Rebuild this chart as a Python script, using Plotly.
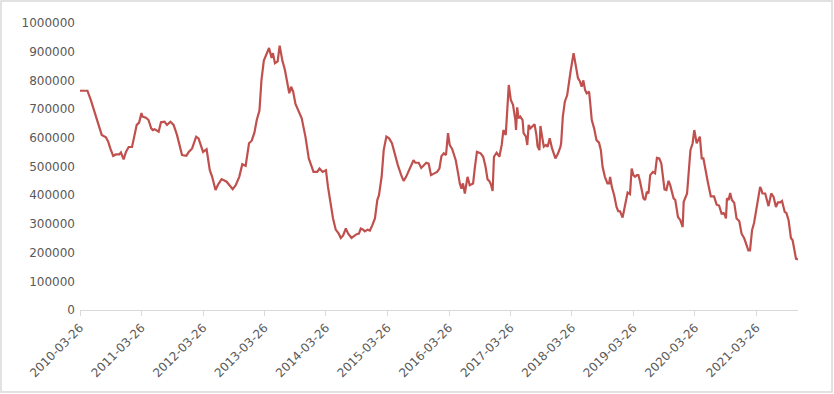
import plotly.graph_objects as go

dates = [
    "2010-03-26", "2010-05-09", "2010-05-29", "2010-06-28", "2010-07-17", "2010-08-02", "2010-08-27",
    "2010-09-10", "2010-09-22", "2010-10-09", "2010-10-25", "2010-11-14", "2010-11-24", "2010-12-10",
    "2010-12-24", "2011-01-09", "2011-01-29", "2011-02-12", "2011-02-26", "2011-03-12", "2011-03-26",
    "2011-04-01", "2011-04-22", "2011-05-07", "2011-05-23", "2011-06-02", "2011-06-12", "2011-07-06",
    "2011-07-20", "2011-08-10", "2011-08-25", "2011-09-14", "2011-10-03", "2011-10-23", "2011-11-06",
    "2011-11-22", "2011-12-18", "2012-01-01", "2012-01-21", "2012-02-14", "2012-02-28", "2012-03-26",
    "2012-04-16", "2012-05-05", "2012-05-19", "2012-06-08", "2012-06-24", "2012-07-14", "2012-08-13",
    "2012-09-01", "2012-09-18", "2012-10-06", "2012-10-27", "2012-11-14", "2012-12-04", "2012-12-24",
    "2013-01-09", "2013-01-25", "2013-02-08", "2013-02-24", "2013-03-08", "2013-03-22",
    "2013-04-07", "2013-04-22", "2013-05-07", "2013-05-15", "2013-05-27", "2013-06-12", "2013-06-24",
    "2013-07-10", "2013-07-25", "2013-08-10", "2013-08-20", "2013-08-31", "2013-09-12", "2013-09-26",
    "2013-10-19", "2013-11-02", "2013-11-24", "2013-12-14", "2013-12-28", "2014-01-11", "2014-02-02",
    "2014-02-16", "2014-03-06", "2014-03-26",
    "2014-04-07", "2014-04-24", "2014-05-07", "2014-05-23", "2014-06-10", "2014-06-22", "2014-07-06",
    "2014-07-22", "2014-08-05", "2014-08-25", "2014-09-10", "2014-09-24", "2014-10-08", "2014-10-19",
    "2014-11-02", "2014-11-12", "2014-11-28", "2014-12-12", "2014-12-26", "2015-01-11", "2015-01-25",
    "2015-02-04", "2015-02-20", "2015-03-04", "2015-03-20",
    "2015-04-05", "2015-04-22", "2015-05-07", "2015-05-27", "2015-06-16", "2015-06-30", "2015-07-15",
    "2015-07-29", "2015-08-13", "2015-08-28", "2015-09-08", "2015-09-28", "2015-10-13", "2015-10-27",
    "2015-11-12", "2015-11-26", "2015-12-10", "2015-12-30", "2016-01-15", "2016-01-29", "2016-02-10",
    "2016-02-24", "2016-03-08", "2016-03-20",
    "2016-03-30", "2016-04-14", "2016-04-24", "2016-05-05", "2016-05-19", "2016-05-29", "2016-06-08",
    "2016-06-17", "2016-06-28", "2016-07-14", "2016-07-27", "2016-08-16", "2016-08-27", "2016-09-08",
    "2016-09-30", "2016-10-15", "2016-10-29", "2016-11-10", "2016-11-20", "2016-11-30", "2016-12-10",
    "2016-12-18", "2017-01-03", "2017-01-19", "2017-02-02", "2017-02-12", "2017-02-26", "2017-03-06",
    "2017-03-16",
    "2017-03-28", "2017-04-10", "2017-04-24", "2017-04-28", "2017-05-05", "2017-05-13", "2017-05-23",
    "2017-06-06", "2017-06-12", "2017-06-26", "2017-07-04", "2017-07-12", "2017-07-22", "2017-08-05",
    "2017-08-16", "2017-08-27", "2017-09-03", "2017-09-14", "2017-09-20", "2017-09-30", "2017-10-10",
    "2017-10-23", "2017-11-02", "2017-11-14", "2017-11-28", "2017-12-18", "2018-01-03", "2018-01-17",
    "2018-01-21", "2018-01-31", "2018-02-12", "2018-02-26", "2018-03-06", "2018-03-18",
    "2018-04-05", "2018-04-17", "2018-05-01", "2018-05-13", "2018-05-23", "2018-06-02", "2018-06-12",
    "2018-06-22", "2018-07-06", "2018-07-12", "2018-07-22", "2018-08-05", "2018-08-19", "2018-09-03",
    "2018-09-14", "2018-09-24", "2018-10-08", "2018-10-23", "2018-11-02", "2018-11-08", "2018-11-18",
    "2018-12-02", "2018-12-16", "2018-12-26", "2019-01-06", "2019-01-21", "2019-01-31", "2019-02-10",
    "2019-02-20", "2019-03-06", "2019-03-16",
    "2019-03-26", "2019-04-05", "2019-04-16", "2019-04-25", "2019-05-05", "2019-05-15", "2019-05-25",
    "2019-06-04", "2019-06-14", "2019-06-24", "2019-07-04", "2019-07-20", "2019-08-02", "2019-08-13",
    "2019-08-27", "2019-09-08", "2019-09-16", "2019-09-27", "2019-10-08", "2019-10-21", "2019-10-31",
    "2019-11-20", "2019-11-30", "2019-12-16", "2019-12-30", "2020-01-13", "2020-01-19", "2020-02-08",
    "2020-02-28", "2020-03-12", "2020-03-22",
    "2020-04-05", "2020-04-24", "2020-05-05", "2020-05-15", "2020-05-29", "2020-06-12", "2020-06-28",
    "2020-07-17", "2020-08-02", "2020-08-16", "2020-08-31", "2020-09-12", "2020-09-20", "2020-09-26",
    "2020-10-02", "2020-10-12", "2020-10-21", "2020-10-31", "2020-11-14", "2020-11-28", "2020-12-14",
    "2020-12-28", "2021-01-13", "2021-01-27", "2021-02-06", "2021-02-16", "2021-02-28", "2021-03-12",
    "2021-03-26",
    "2021-04-03", "2021-04-17", "2021-04-24", "2021-05-01", "2021-05-17", "2021-05-29", "2021-06-06",
    "2021-06-22", "2021-07-06", "2021-07-20", "2021-08-01", "2021-08-15", "2021-08-25", "2021-09-10",
    "2021-09-20", "2021-10-03", "2021-10-17", "2021-10-27", "2021-11-08", "2021-11-16", "2021-11-28",
]

values = [
    764000, 764000, 732000, 674000, 645000, 610000, 602000,
    586000, 563000, 537000, 542000, 542000, 549000, 525000,
    551000, 568000, 568000, 604000, 645000, 653000, 686000,
    674000, 670000, 662000, 633000, 627000, 630000, 621000,
    654000, 656000, 645000, 656000, 645000, 610000, 581000,
    540000, 537000, 551000, 563000, 604000, 598000, 551000,
    560000, 487000, 464000, 418000, 438000, 456000, 447000,
    433000, 421000, 435000, 464000, 508000, 502000, 581000,
    590000, 618000, 662000, 695000, 802000, 869000,
    889000, 913000, 878000, 895000, 860000, 866000, 921000,
    869000, 837000, 790000, 755000, 778000, 761000, 718000,
    688000, 668000, 604000, 528000, 505000, 481000, 481000,
    493000, 481000, 487000,
    429000, 359000, 319000, 280000, 266000, 251000, 260000,
    284000, 266000, 251000, 257000, 264000, 266000, 284000,
    280000, 274000, 280000, 277000, 295000, 319000, 383000,
    400000, 466000, 557000, 604000,
    598000, 581000, 546000, 505000, 470000, 450000, 464000,
    481000, 499000, 522000, 513000, 513000, 495000, 502000,
    513000, 510000, 470000, 476000, 481000, 493000, 536000,
    546000, 540000, 616000,
    575000, 560000, 540000, 522000, 476000, 441000, 423000,
    441000, 406000, 464000, 435000, 441000, 499000, 551000,
    546000, 534000, 499000, 455000, 450000, 437000, 415000,
    534000, 548000, 534000, 575000, 627000, 610000, 709000,
    784000,
    732000, 715000, 662000, 627000, 706000, 668000, 674000,
    662000, 616000, 604000, 575000, 645000, 633000, 641000,
    647000, 610000, 571000, 557000, 641000, 604000, 569000,
    575000, 569000, 598000, 563000, 528000, 546000, 569000,
    581000, 674000, 726000, 749000, 790000, 831000,
    895000, 860000, 808000, 796000, 778000, 800000, 767000,
    755000, 761000, 726000, 662000, 633000, 592000, 583000,
    557000, 499000, 464000, 441000, 441000, 464000, 429000,
    400000, 359000, 344000, 344000, 322000, 354000, 377000,
    409000, 404000, 493000,
    470000, 464000, 470000, 470000, 447000, 418000, 389000,
    383000, 412000, 406000, 470000, 481000, 476000, 530000,
    528000, 511000, 476000, 420000, 418000, 450000, 435000,
    389000, 383000, 324000, 313000, 289000, 377000, 406000,
    557000, 581000, 627000,
    581000, 604000, 528000, 528000, 481000, 441000, 396000,
    396000, 367000, 364000, 336000, 338000, 330000, 319000,
    389000, 383000, 408000, 383000, 374000, 319000, 310000,
    266000, 249000, 229000, 208000, 208000, 278000, 303000,
    359000,
    389000, 429000, 420000, 406000, 406000, 383000, 362000,
    406000, 394000, 359000, 375000, 375000, 380000, 342000,
    338000, 313000, 251000, 243000, 196000, 179000, 176000,
]

tick_dates = ["2010-03-26", "2011-03-26", "2012-03-26", "2013-03-26", "2014-03-26", "2015-03-26",
              "2016-03-26", "2017-03-26", "2018-03-26", "2019-03-26", "2020-03-26", "2021-03-26"]
tick_labels = list(tick_dates)

y_ticks = [0, 100000, 200000, 300000, 400000, 500000, 600000, 700000, 800000, 900000, 1000000]
y_labels = [str(v) for v in y_ticks]

fig = go.Figure()
fig.add_trace(go.Scatter(
    x=dates, y=values, mode="lines",
    line=dict(color="#C0504D", width=2.2),
    showlegend=False,
))

text_color = "#595959"
fig.update_layout(
    width=834, height=394,
    margin=dict(l=80, r=36, t=23, b=84),
    paper_bgcolor="white", plot_bgcolor="white",
    font=dict(family="DejaVu Sans", size=12, color=text_color),
    xaxis=dict(
        type="date",
        range=["2010-03-26", "2021-11-28"],
        tickvals=tick_dates, ticktext=tick_labels,
        tickangle=-45,
        showgrid=False, zeroline=False,
        showline=True, linecolor="#d9d9d9", linewidth=1,
        ticks="outside", ticklen=5, tickcolor="#d9d9d9",
        tickfont=dict(family="DejaVu Sans", size=12, color=text_color),
    ),
    yaxis=dict(
        range=[0, 1000000],
        tickvals=y_ticks, ticktext=y_labels,
        showgrid=False, zeroline=False, showline=False,
        ticks="", ticklabelstandoff=4,
        tickfont=dict(family="DejaVu Sans", size=12, color=text_color),
    ),
    shapes=[dict(
        type="rect", xref="paper", yref="paper",
        x0=-0.110, x1=1.0474, y0=-0.2857, y1=1.0767,
        line=dict(color="#d9d9d9", width=1.5), fillcolor="rgba(0,0,0,0)",
        layer="below",
    )],
)

fig.write_html(
    "out.html",
    config={"displayModeBar": False},
    post_script="document.body.style.margin='0';document.body.style.padding='0';",
)
